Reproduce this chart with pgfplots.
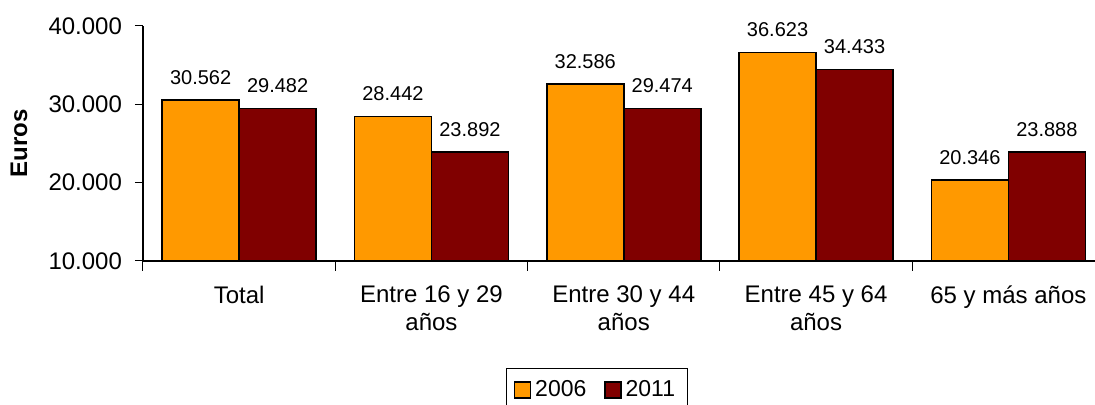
\documentclass[border=0pt]{standalone}
\usepackage{pgfplots}
\pgfplotsset{compat=1.18}
\usepackage{fontspec}
\setmainfont{Liberation Sans}
\definecolor{c2006}{HTML}{FF9900}
\definecolor{c2011}{HTML}{800000}
\begin{document}
\begin{tikzpicture}
\begin{axis}[
  scale only axis,
  width=480.75pt, height=117.5pt,
  ybar=0pt, bar width=38.5pt,
  xmin=-0.5, xmax=4.5,
  ymin=10000, ymax=40000,
  ytick={10000,20000,30000,40000},
  scaled y ticks=false,
  xtick={0,1,2,3,4},
  xticklabels={Total,{Entre 16 y 29\\años},{Entre 30 y 44\\años},{Entre 45 y 64\\años},{65 y más años}},
  x tick label style={align=center, font=\fontsize{12}{14}\selectfont, yshift=-5pt},
  y tick label style={font=\fontsize{12}{14}\selectfont, xshift=-3pt},
  major x tick style={draw=none},
  extra x ticks={-0.5,0.5,1.5,2.5,3.5},
  extra x tick labels={},
  extra x tick style={major tick length=5pt, major x tick style={draw=black, line width=0.5pt}},
  tick align=outside,
  major tick length=4pt,
  axis x line*=bottom, axis y line*=left,
  axis line style={-, line width=0.6pt},
  y tick style={line width=0.5pt, black},
  /pgf/number format/.cd, fixed, precision=0, 1000 sep={.}, assume math mode=true, /pgfplots/.cd,
  ylabel={\bfseries Euros},
  every axis y label/.style={at={(axis description cs:0,0.5)}, rotate=90, anchor=center, yshift=62pt, font=\fontsize{12}{14}\selectfont},
  nodes near coords,
  every node near coord/.append style={font=\fontsize{10}{12}\selectfont, black, yshift=4pt},
  legend columns=2,
  legend style={at={(0.4717,-0.4553)}, anchor=north, draw=black, line width=0.5pt,
    inner xsep=4pt, inner ysep=4pt,
    font=\fontsize{11.5}{13}\selectfont, /tikz/every even column/.append style={column sep=7pt}},
  legend image code/.code={\draw[#1, draw=black, line width=0.6pt] (0pt,-4pt) rectangle (8pt,4pt);},
]
\addplot[fill=c2006, draw=black, line width=0.75pt] coordinates {(0,30562) (1,28442) (2,32586) (3,36623) (4,20346)};
\addplot[fill=c2011, draw=black, line width=0.75pt] coordinates {(0,29482) (1,23892) (2,29474) (3,34433) (4,23888)};
\legend{2006,2011}
\end{axis}
\pgfresetboundingbox
\useasboundingbox (-71.5pt,-72pt) rectangle (476pt,130.5pt);
\end{tikzpicture}
\end{document}
